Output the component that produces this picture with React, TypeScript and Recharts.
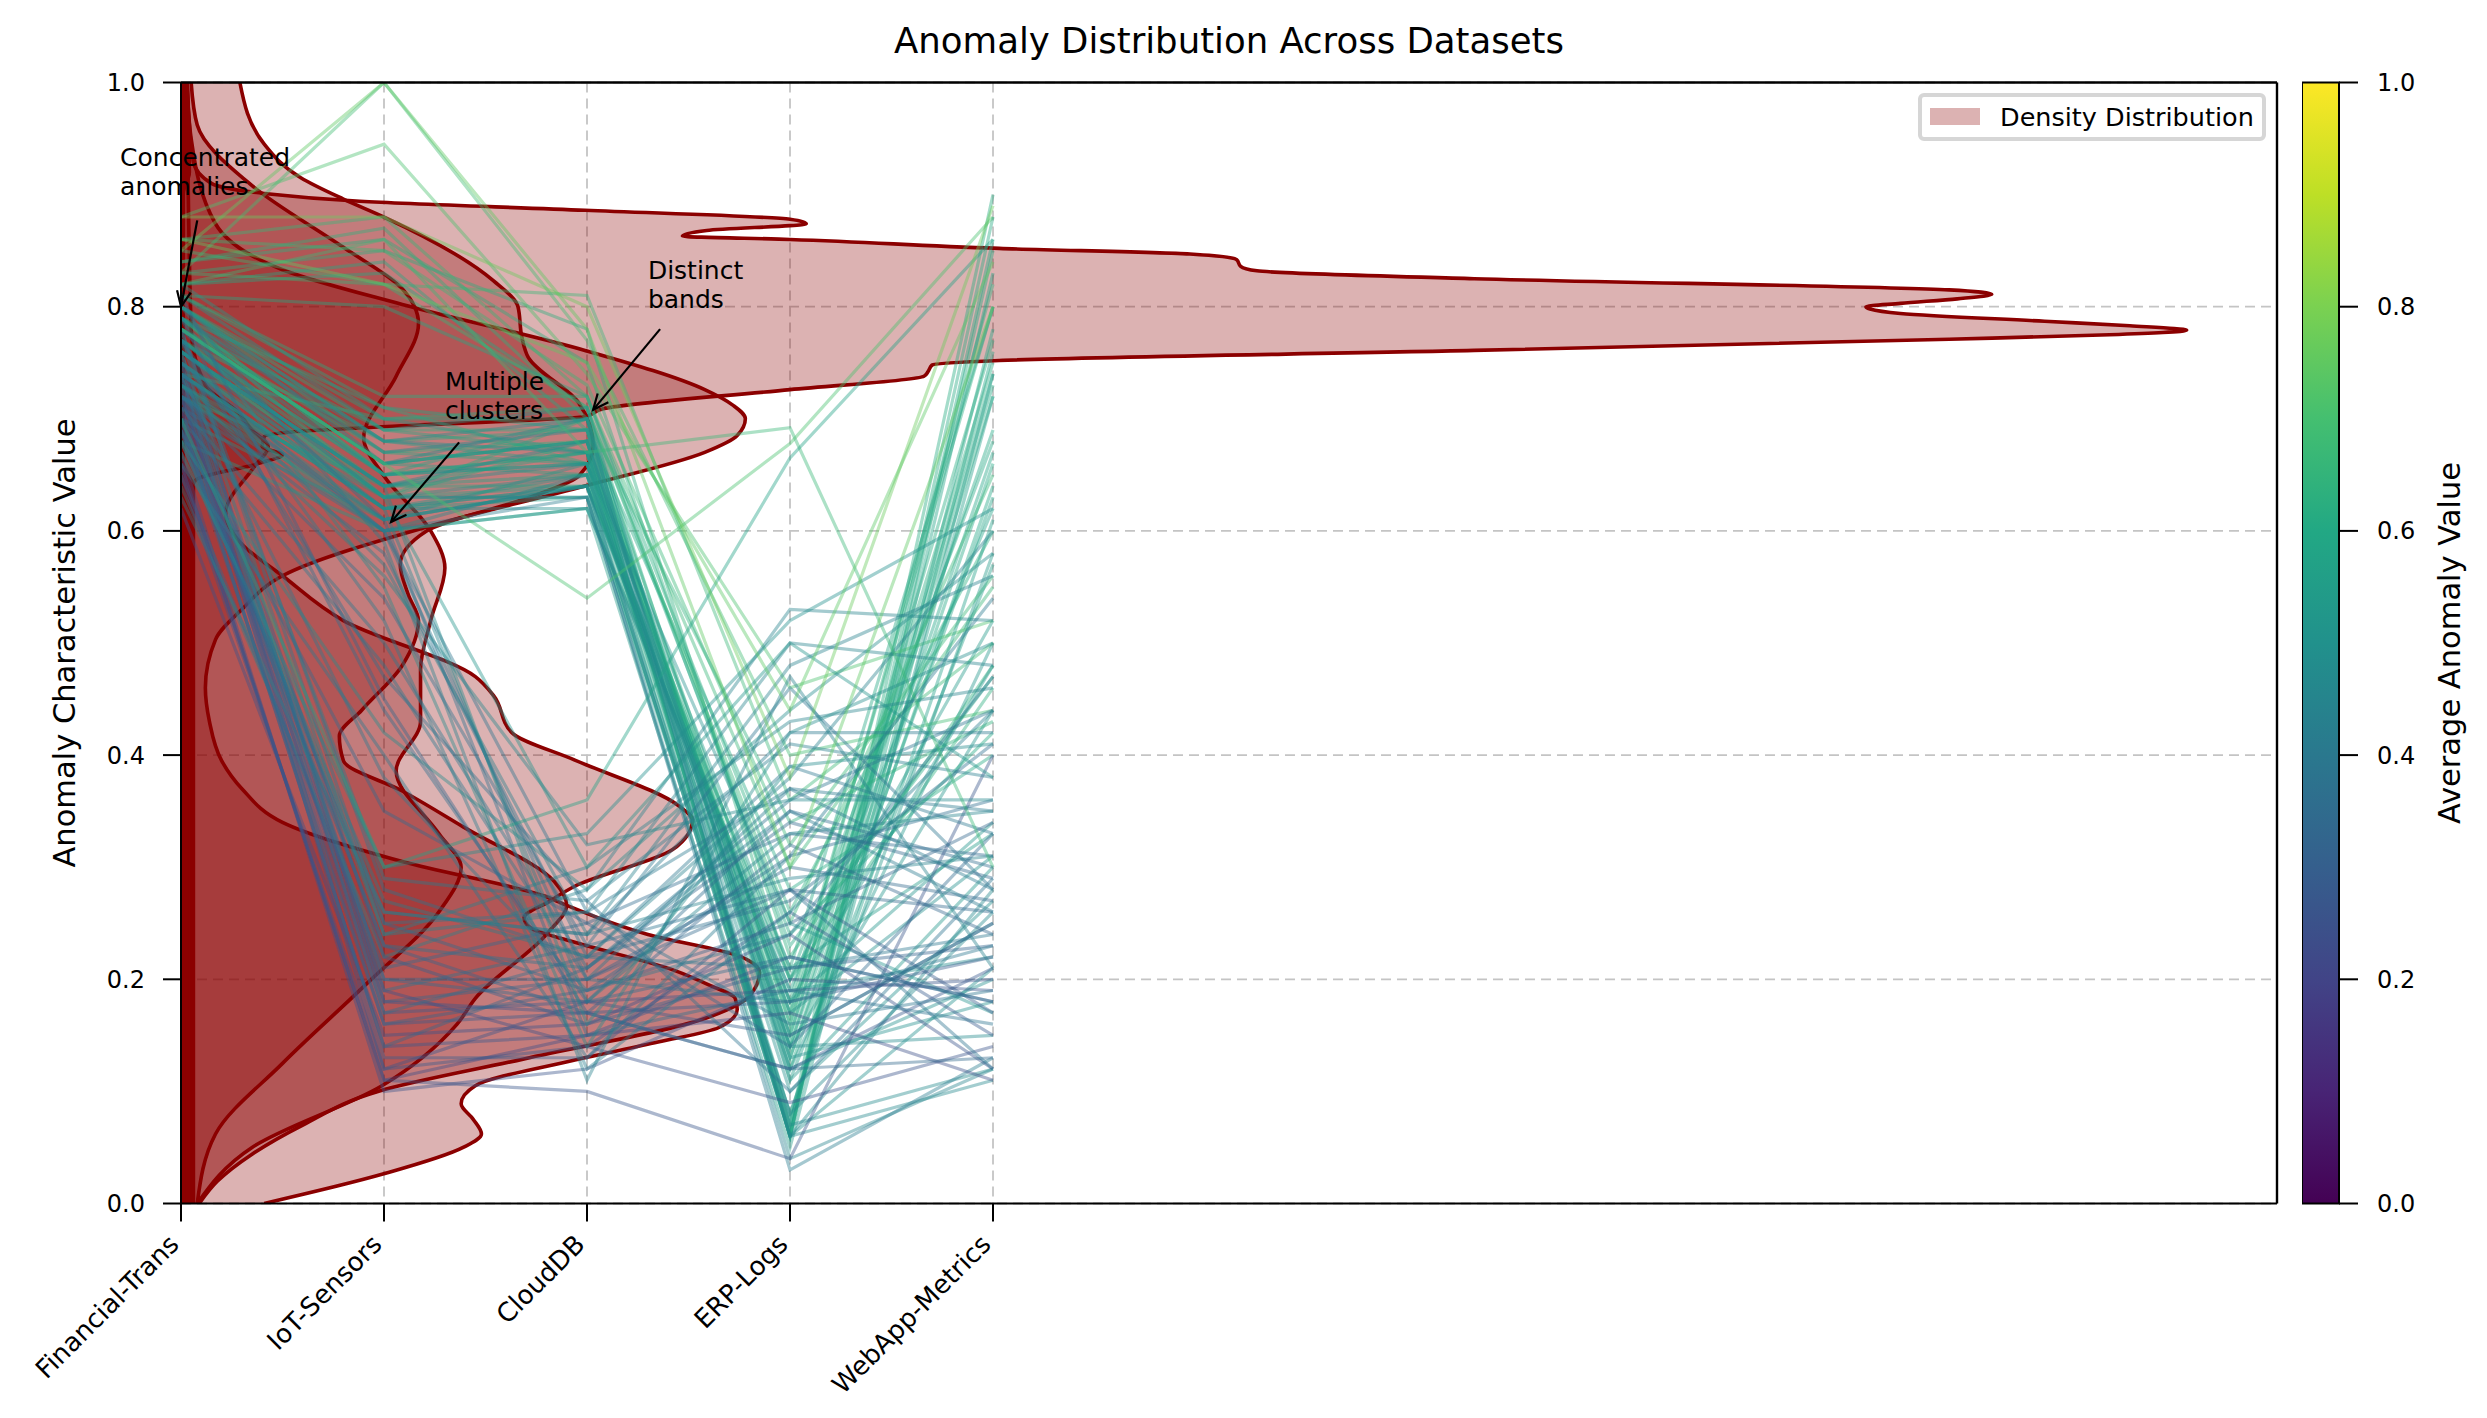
import React from 'react';
import { ComposedChart, BarChart, Bar, Area, Line, XAxis, YAxis, CartesianGrid, ReferenceLine, ReferenceDot, Legend } from 'recharts';

const DATASETS = ['Financial-Trans', 'IoT-Sensors', 'CloudDB', 'ERP-Logs', 'WebApp-Metrics'];
const Y_TICKS = [0, 0.2, 0.4, 0.6, 0.8, 1];
const X_TICKS = [0, 1, 2, 3, 4];

const financial = [
  .78,.81,.76,.83,.79,.74,.86,.80,.77,.72,.82,.78,.75,.84,.80,.79,.73,.77,.81,.85,.76,.78,.70,.83,.79,.74,.88,.80,.77,.82,.75,.78,.86,.72,.79,.81,.76,.84,.68,.78,.80,.74,.83,.77,
  .76,.80,.74,.78,.82,.77,.72,.79,.75,.81,.78,.73,.76,.80,.71,.77,.79,.74,
  .74,.70,.68,.76,.72,.66,.78,.71,.64,.73,.69,.75,.67,.70,.62,.77,.72,.65,.74,.68,.71,.76,.66,.73,.69,.63,.75,.70,.67,.72,.78,.65,.74,.69,
  .76,.72,.79,.74,.70,.77,.73,.81,.75,.68,.78,.71,.74,.80,.69,.76,.72,.77,.66,.75,.73,.79,
  .82,.78,.70,.88,.85,.86,
];
const iot = [
  .66,.71,.63,.85,.65,.62,.88,.69,.64,.61,.83,.67,.63,.86,.70,.65,.60,.68,.72,.82,.64,.66,.61,1.0,.63,.70,.945,.67,.65,.84,.62,.69,.85,.64,.71,.80,.63,.87,.60,.66,.68,.62,.82,.65,
  .64,.68,.61,.66,.70,.63,.60,.67,.62,.69,.65,.61,.64,.66,.60,.63,.68,.62,
  .20,.14,.26,.18,.24,.11,.28,.16,.22,.12,.25,.19,.10,.23,.15,.29,.17,.21,.13,.27,.18,.24,.11,.20,.16,.26,.22,.14,.30,.19,.25,.12,.17,.23,
  .62,.58,.55,.60,.48,.52,.63,.45,.57,.42,.61,.50,.38,.59,.35,.64,.54,.47,.40,.60,.56,.44,
  .86,.66,.30,.88,1.0,.82,
];
const cloud = [
  .68,.66,.70,.78,.67,.65,.72,.69,.64,.66,.71,.68,.63,.75,.70,.66,.62,.69,.72,.81,.67,.65,.64,.77,.68,.71,.74,.66,.70,.69,.63,.67,.73,.65,.69,.72,.64,.70,.62,.68,.66,.64,.71,.67,
  .66,.70,.64,.68,.67,.63,.65,.69,.62,.71,.66,.64,.68,.70,.63,.65,.67,.64,
  .18,.15,.24,.20,.26,.10,.22,.17,.28,.14,.19,.23,.12,.21,.16,.27,.18,.25,.13,.22,.17,.30,.15,.20,.19,.24,.16,.21,.33,.14,.26,.18,.22,.17,
  .18,.22,.14,.26,.20,.12,.30,.17,.24,.28,.15,.21,.19,.11,.25,.16,.23,.27,.13,.20,.32,.18,
  .67,.54,.36,.80,.78,.75,
];
const erp = [
  .06,.14,.18,.20,.07,.12,.30,.16,.06,.14,.24,.17,.08,.22,.13,.06,.20,.15,.26,.36,.07,.13,.18,.40,.06,.16,.46,.20,.14,.28,.07,.17,.32,.06,.12,.23,.19,.34,.05,.15,.08,.21,.25,.11,
  .10,.06,.17,.13,.21,.04,.15,.06,.19,.11,.25,.08,.14,.07,.03,.18,.12,.06,
  .35,.22,.42,.28,.50,.04,.39,.18,.53,.26,.31,.46,.20,.36,.24,.41,.15,.33,.28,.38,.12,.43,.17,.30,.25,.48,.21,.34,.52,.09,.37,.19,.27,.32,
  .33,.21,.42,.16,.37,.26,.50,.12,.29,.44,.19,.35,.24,.47,.14,.39,.28,.10,.31,.18,.36,.22,
  .692,.678,.665,.38,.30,.44,
];
const web = [
  .85,.72,.80,.46,.90,.50,.55,.75,.86,.44,.42,.82,.58,.48,.66,.76,.52,.74,.60,.50,.78,.63,.48,.44,.88,.77,.52,.68,.67,.40,.72,.69,.56,.83,.64,.47,.62,.43,.74,.73,.61,.80,.65,.57,
  .27,.21,.31,.18,.33,.12,.25,.11,.22,.30,.17,.26,.15,.12,.13,.34,.20,.28,
  .30,.18,.42,.26,.48,.40,.33,.22,.52,.15,.36,.28,.19,.44,.12,.38,.25,.31,.17,.60,.21,.46,.11,.27,.34,.56,.23,.29,.62,.14,.35,.20,.41,.24,
  .35,.24,.50,.19,.28,.44,.38,.13,.31,.58,.16,.26,.47,.21,.33,.41,.12,.29,.54,.23,.36,.18,
  .30,.88,.86,.89,.80,.84,
];

// density curves: level on the vertical axis, density on the horizontal axis
const spikeLevels = [0,.3,.6,.63,.645,.66,.668,.675,.684,.688,.694,.702,.709,.726,.738,.742,.748,.752,.761,.771,.775,.779,.783,.787,.794,.798,.80,.803,.807,.811,.815,.825,.832,.836,.842,.847,.852,.86,.863,.868,.874,.878,.886,.894,.901,.91,.93,1];
const spikeDensity = [.03,.03,.03,.04,.07,.38,.50,.40,.41,.53,1.12,1.99,2.08,3.0,3.66,3.68,3.7,4.03,6.37,8.71,9.5,9.88,9.6,9.18,8.47,8.32,8.3,8.47,8.75,8.92,8.71,6.37,5.3,5.22,5.2,4.97,4.03,3.0,2.47,2.59,3.08,3.0,1.99,.88,.41,.15,.06,.03];
const peakLevels = [0,.02,.044,.07,.10,.129,.165,.185,.206,.22,.24,.266,.273,.305,.34,.37,.395,.43,.46,.503,.53,.56,.605,.64,.67,.685,.70,.712,.726,.761,.802,.833,.874,.95,1];
const peakDensity = [.09,.18,.35,.6,.97,1.69,2.58,2.8,2.85,2.76,2.3,1.9,1.81,1.09,.5,.3,.2,.14,.12,.17,.3,.5,1.24,1.99,2.58,2.74,2.78,2.72,2.58,1.99,1.09,.5,.17,.05,.03];
const lobeLevels = [0,.026,.05,.062,.075,.089,.105,.128,.144,.157,.173,.183,.195,.208,.233,.246,.255,.269,.283,.3155,.33,.342,.355,.3956,.42,.453,.47,.52,.56,.59,.616,.657,.675,.69,.706,.73,.78,1];
const lobeDensity = [.41,.99,1.39,1.48,1.44,1.38,1.45,1.94,2.35,2.65,2.74,2.73,2.6,2.43,1.94,1.72,1.69,1.81,1.94,2.42,2.5,2.52,2.45,1.94,1.63,1.54,1.45,.8,.5,.29,.22,.36,.43,.35,.28,.12,.05,.03];
const waveLevels = [0,.062,.125,.197,.26,.30,.33,.386,.43,.476,.52,.567,.60,.649,.683,.738,.785,.816,.853,.908,.962,1];
const waveDensity = [.08,.17,.5,.92,1.27,1.38,1.27,1.06,1.18,1.18,1.23,1.3,1.23,1.0,.9,1.06,1.17,1.09,.8,.35,.08,.05];
const shoulderLevels = [0,.05,.105,.16,.183,.242,.266,.287,.336,.368,.395,.417,.44,.48,.52,.543,.57,.60,.632,.649,.676,.714,.755,.772,.80,.823,.88,.896,.915,.945,1];
const shoulderDensity = [.08,.35,.99,1.36,1.45,1.81,1.9,1.84,1.39,1.09,.8,.78,.89,1.09,1.17,1.12,1.08,1.21,1.75,1.96,2.03,1.96,1.71,1.68,1.66,1.54,1.0,.8,.59,.41,.29];
const floorLevels = [0,.64,.66,.9,.92,1];
const floorDensity = [.07,.07,.02,.02,.05,.04];

const curves = [
  [spikeLevels, spikeDensity], [waveLevels, waveDensity], [shoulderLevels, shoulderDensity],
  [peakLevels, peakDensity], [lobeLevels, lobeDensity],
].map(([l, d]) => l.map((y, i) => ({ y, x: d[i] })));
const floorCurve = floorLevels.map((y, i) => ({ y, x: floorDensity[i] }));
const rows = financial.map((_, i) => [financial[i], iot[i], cloud[i], erp[i], web[i]]);

const VIRIDIS = ['#440154','#482475','#414487','#355f8d','#2a788e','#21918c','#22a884','#44bf70','#7ad151','#bddf26','#fde725'];
function hex(c: string) { return [1, 3, 5].map((i) => parseInt(c.slice(i, i + 2), 16)); }
function viridis(t: number) {
  const p = Math.max(0, Math.min(0.9999, t)) * 10, i = Math.floor(p), f = p - i;
  const a = hex(VIRIDIS[i]), b = hex(VIRIDIS[i + 1]);
  return `rgb(${a.map((v, k) => Math.round(v + (b[k] - v) * f)).join(',')})`;
}

const FONT = '"DejaVu Sans", sans-serif';
const RED = '#8b0000';

function NameTick({ x, y, payload }: any) {
  return (
    <text transform={`translate(${x - 7},${y + 16}) rotate(-45)`} textAnchor="end" fontFamily={FONT} fontSize={26} fill="#000" dy="0.35em">
      {DATASETS[payload.value]}
    </text>
  );
}

function Note({ lines }: { lines: string[] }) {
  return (props: any) => (
    <text x={props.cx} y={props.cy} fontFamily={FONT} fontSize={25} fill="#000">
      {lines.map((t, i) => <tspan key={i} x={props.cx} dy={i ? 29 : 0}>{t}</tspan>)}
    </text>
  );
}

function Arrow(props: any) {
  const { x1, y1, x2, y2 } = props;
  const a = Math.atan2(y2 - y1, x2 - x1), h = 17, s = 0.42;
  const p = (d: number) => `${x2 - h * Math.cos(a + d)},${y2 - h * Math.sin(a + d)}`;
  return (
    <g stroke="#000" strokeWidth={2.2} fill="none">
      <line x1={x1} y1={y1} x2={x2} y2={y2} />
      <polyline points={`${p(s)} ${x2},${y2} ${p(-s)}`} />
    </g>
  );
}

function LegendBox() {
  return (
    <div style={{ position: 'absolute', left: 0, top: 0, width: 348, height: 48, boxSizing: 'border-box', border: '4px solid #d6d6d6', borderRadius: 6, background: 'rgba(255,255,255,0.8)', fontFamily: FONT, fontSize: 25.5, color: '#000' }}>
      <span style={{ position: 'absolute', left: 8, top: 11, width: 50, height: 17, background: '#dcb2b2' }} />
      <span style={{ position: 'absolute', left: 78, top: 5, whiteSpace: 'nowrap', lineHeight: '30px' }}>Density Distribution</span>
    </div>
  );
}

const axisStroke = { stroke: '#000', strokeWidth: 2 };

export default function App() {
  return (
    <div style={{ position: 'absolute', left: 0, top: 0, width: 2487, height: 1418, background: '#fff', overflow: 'hidden' }}>
      <div style={{ position: 'absolute', left: 0, width: 2458, top: 21, textAlign: 'center', fontFamily: FONT, fontSize: 35.5, lineHeight: '40px', color: '#000' }}>
        Anomaly Distribution Across Datasets
      </div>
      <ComposedChart width={2487} height={1418} layout="vertical" margin={{ left: 59, right: 210, top: 82.5, bottom: 154.5 }}>
        <CartesianGrid stroke="#c4c4c4" strokeWidth={1.8} strokeDasharray="10 6" />
        <XAxis type="number" dataKey="x" domain={[0, 10.325]} ticks={X_TICKS} allowDataOverflow height={60} interval={0} axisLine={axisStroke} tickLine={axisStroke} tickSize={18} tick={<NameTick />} />
        <YAxis reversed type="number" dataKey="y" domain={[0, 1]} ticks={Y_TICKS} allowDataOverflow width={122} interval={0} axisLine={axisStroke} tickLine={axisStroke} tickSize={18} tickMargin={18}
          tickFormatter={(v: number) => v.toFixed(1)} tick={{ fontFamily: FONT, fontSize: 24, fill: '#000' }}
          label={{ value: 'Anomaly Characteristic Value', angle: -90, position: 'insideLeft', textAnchor: 'middle', fontFamily: FONT, fontSize: 30.5, fill: '#000' }} />
        <Area data={floorCurve} dataKey="x" type="monotone" stroke="none" fill={RED} fillOpacity={1} isAnimationActive={false} dot={false} activeDot={false} legendType="none" />
        {curves.map((c, i) => (
          <Area key={i} data={c} dataKey="x" type="monotone" stroke={RED} strokeWidth={3.6} fill={RED} fillOpacity={0.3} isAnimationActive={false} dot={false} activeDot={false} name="Density Distribution" />
        ))}
        {rows.map((r, i) => (
          <Line key={i} data={r.map((y, x) => ({ x, y }))} dataKey="x" type="linear" stroke={viridis(r.reduce((a, b) => a + b, 0) / 5)} strokeOpacity={0.42} strokeWidth={3.2} dot={false} activeDot={false} isAnimationActive={false} legendType="none" />
        ))}
        <ReferenceLine y={1} stroke="#000" strokeWidth={2.4} ifOverflow="visible" />
        <ReferenceLine x={10.325} stroke="#000" strokeWidth={2.4} ifOverflow="visible" />
        <ReferenceDot x={-0.3} y={0.9255} r={0} ifOverflow="visible" shape={Note({ lines: ['Concentrated', 'anomalies'] })} />
        <ReferenceDot x={1.3} y={0.7257} r={0} ifOverflow="visible" shape={Note({ lines: ['Multiple', 'clusters'] })} />
        <ReferenceDot x={2.3} y={0.8247} r={0} ifOverflow="visible" shape={Note({ lines: ['Distinct', 'bands'] })} />
        <ReferenceLine segment={[{ x: 0.08, y: 0.877 }, { x: 0, y: 0.8 }]} ifOverflow="visible" shape={Arrow} />
        <ReferenceLine segment={[{ x: 1.37, y: 0.679 }, { x: 1.035, y: 0.608 }]} ifOverflow="visible" shape={Arrow} />
        <ReferenceLine segment={[{ x: 2.36, y: 0.78 }, { x: 2.03, y: 0.708 }]} ifOverflow="visible" shape={Arrow} />
        <Legend layout="horizontal" verticalAlign="top" content={<LegendBox />} wrapperStyle={{ position: 'absolute', left: 1918, top: 93, width: 0, height: 0 }} />
      </ComposedChart>
      <div style={{ position: 'absolute', left: 2302, top: 0 }}>
        <BarChart width={185} height={1418} data={[{ name: 'scale', top: 1 }]} barCategoryGap={0} margin={{ left: 0, right: 0, top: 82.5, bottom: 214.5 }}>
          <defs>
            <linearGradient id="viridisBar" x1="0" y1="1" x2="0" y2="0">
              {VIRIDIS.map((c, i) => <stop key={i} offset={i / 10} stopColor={c} />)}
            </linearGradient>
          </defs>
          <XAxis dataKey="name" hide />
          <YAxis orientation="right" type="number" domain={[0, 1]} ticks={Y_TICKS} interval={0} width={148} axisLine={false} tickLine={axisStroke} tickSize={19} tickMargin={19}
            tickFormatter={(v: number) => v.toFixed(1)} tick={{ fontFamily: FONT, fontSize: 24, fill: '#000' }}
            label={{ value: 'Average Anomaly Value', angle: -90, position: 'insideRight', textAnchor: 'middle', fontFamily: FONT, fontSize: 30.5, fill: '#000', dx: -33 }} />
          <Bar dataKey="top" fill="url(#viridisBar)" stroke="#000" strokeWidth={2} isAnimationActive={false} />
        </BarChart>
      </div>
    </div>
  );
}
